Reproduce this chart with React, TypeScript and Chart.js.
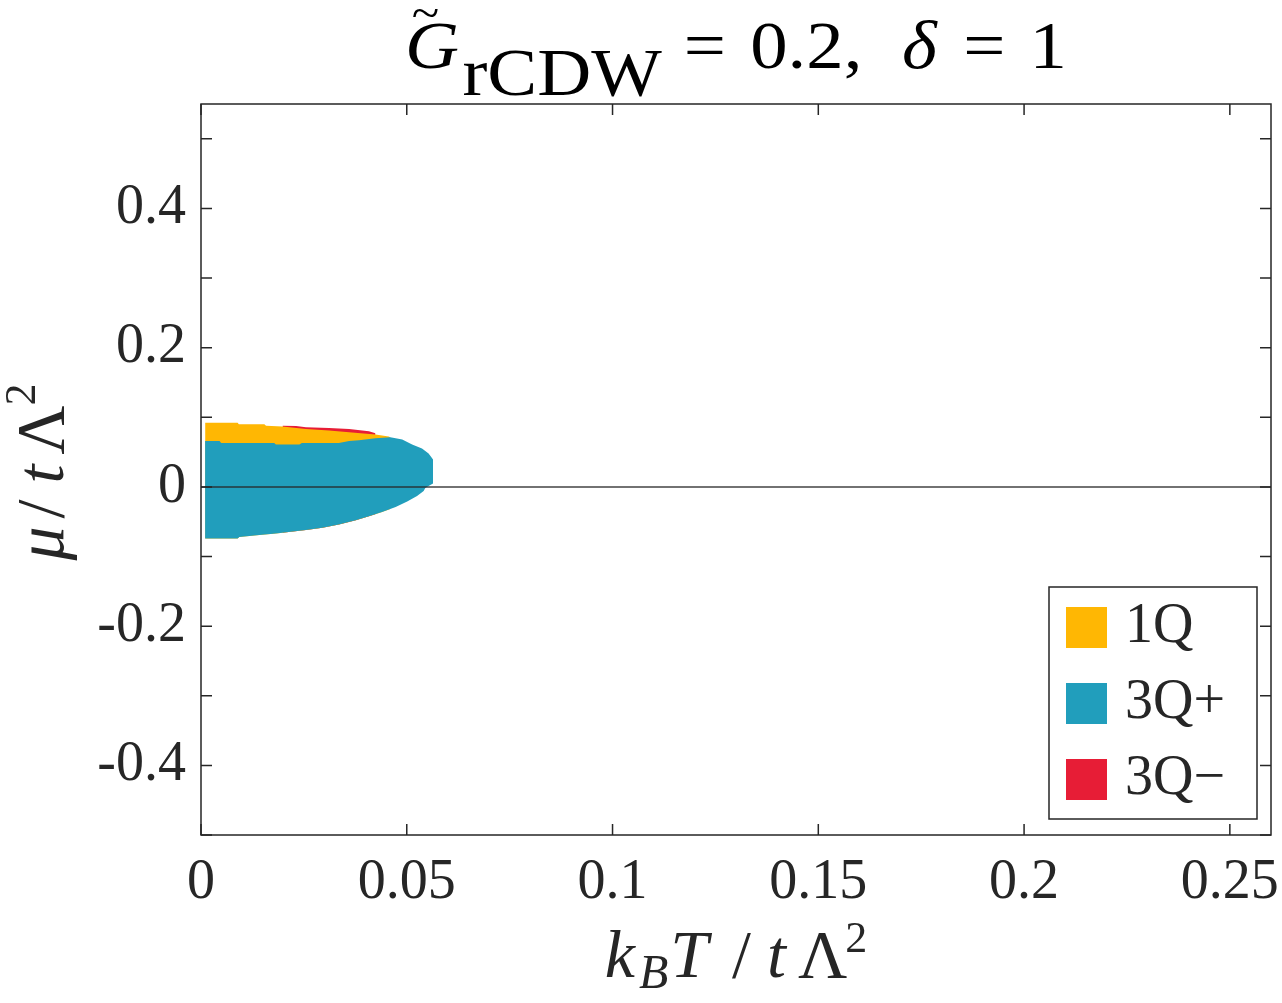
import { useEffect, useRef } from 'react';
import { Chart, registerables } from 'chart.js';

Chart.register(...registerables);

const SERIF = '"Liberation Serif", "Times New Roman", serif';
const AXIS_COLOR = '#262626';

// phases (legend order)
const phaseLabels = ['1Q', '3Q+', '3Q\u2212'];
const phaseColors = ['#FFB703', '#219EBC', '#E71D36'];

// phase boundaries: x = kBT/tΛ², y = μ/tΛ²
const blueTopX = [0.001, 0.0045, 0.0049, 0.0178, 0.0182, 0.0239, 0.0245, 0.0335, 0.036, 0.0384, 0.0424, 0.046, 0.0473, 0.0489, 0.0513, 0.0537, 0.0553, 0.0563, 0.0564];
const blueTopY = [0.066, 0.066, 0.063, 0.063, 0.061, 0.061, 0.063, 0.063, 0.066, 0.067, 0.07, 0.0714, 0.07, 0.068, 0.061, 0.055, 0.048, 0.04, 0.039];

const blueBottomX = [0.001, 0.0089, 0.0093, 0.0142, 0.0182, 0.0255, 0.0295, 0.0335, 0.0376, 0.0408, 0.044, 0.0473, 0.0501, 0.0525, 0.0541, 0.0545, 0.0553, 0.0564];
const blueBottomY = [-0.074, -0.074, -0.072, -0.069, -0.067, -0.062, -0.0586, -0.054, -0.048, -0.042, -0.036, -0.029, -0.021, -0.013, -0.006, -0.0014, 0.0014, 0.005];

const yellowTopX = [0.001, 0.0089, 0.0092, 0.0154, 0.0158, 0.0198, 0.0255, 0.0311, 0.036, 0.0424, 0.0456, 0.046];
const yellowTopY = [0.092, 0.092, 0.09, 0.09, 0.088, 0.0866, 0.0833, 0.081, 0.0786, 0.0752, 0.0723, 0.0714];

const redTopX = [0.0198, 0.0231, 0.0255, 0.0311, 0.036, 0.0408, 0.0424];
const redTopY = [0.088, 0.0876, 0.0856, 0.0847, 0.0833, 0.08, 0.0771];

const zeroLineX = [0, 0.26];
const zeroLineY = [0, 0];

// axes
const xTicks = [0, 0.05, 0.1, 0.15, 0.2, 0.25];
const xTickLabels = ['0', '0.05', '0.1', '0.15', '0.2', '0.25'];
const yTicks = [-0.5, -0.4, -0.3, -0.2, -0.1, 0, 0.1, 0.2, 0.3, 0.4, 0.5];
const yTickLabels = ['', '-0.4', '', '-0.2', '', '0', '', '0.2', '', '0.4', ''];

const toPoints = (xs: number[], ys: number[]) => xs.map((x, i) => ({ x, y: ys[i] }));

// a run of math text: gap = space before the piece, overlay = drawn without advancing
type Seg = { t: string; size: number; italic?: boolean; dy?: number; gap?: number; overlay?: boolean };

const titleSegs: Seg[] = [
  { t: '~', size: 46, gap: 6, dy: -40, overlay: true },
  { t: 'G', size: 68, italic: true },
  { t: 'rCDW', size: 68, gap: 3, dy: 27 },
  { t: '=', size: 68, gap: 20 },
  { t: '0.2,', size: 68, gap: 22 },
  { t: '\u03B4', size: 68, italic: true, gap: 36 },
  { t: '=', size: 68, gap: 24 },
  { t: '1', size: 68, gap: 22 },
];

const xLabelSegs: Seg[] = [
  { t: 'k', size: 68, italic: true },
  { t: 'B', size: 48, italic: true, gap: 4, dy: 11 },
  { t: 'T', size: 68, italic: true, gap: 2 },
  { t: '/', size: 68, gap: 24 },
  { t: 't', size: 68, italic: true, gap: 16 },
  { t: '\u039B', size: 68, gap: 12 },
  { t: '2', size: 44, gap: -2, dy: -25 },
];

const yLabelSegs: Seg[] = [
  { t: '\u03BC', size: 68, italic: true },
  { t: '/', size: 68, gap: 8 },
  { t: 't', size: 68, italic: true, gap: 16 },
  { t: '\u039B', size: 68, gap: 10 },
  { t: '2', size: 44, gap: 0, dy: -28 },
];

function drawSegs(ctx: CanvasRenderingContext2D, segs: Seg[], cx: number, baseline: number, color: string, stretch = 1) {
  const fontOf = (s: Seg) => `${s.italic ? 'italic ' : ''}${s.size}px ${SERIF}`;
  const widths = segs.map((s) => {
    ctx.font = fontOf(s);
    return ctx.measureText(s.t).width;
  });
  const total = segs.reduce((acc, s, i) => (s.overlay ? acc : acc + (s.gap ?? 0) + widths[i]), 0);
  ctx.save();
  ctx.translate(cx, baseline);
  ctx.scale(stretch, 1);
  ctx.fillStyle = color;
  ctx.textAlign = 'left';
  ctx.textBaseline = 'alphabetic';
  let x = -total / 2;
  segs.forEach((s, i) => {
    ctx.font = fontOf(s);
    if (s.overlay) {
      ctx.fillText(s.t, x + (s.gap ?? 0), s.dy ?? 0);
      return;
    }
    x += s.gap ?? 0;
    ctx.fillText(s.t, x, s.dy ?? 0);
    x += widths[i];
  });
  ctx.restore();
}

const decorPlugin = {
  id: 'phaseDecor',
  afterDatasetsDraw(chart: any) {
    const { ctx, chartArea: a, scales } = chart;
    const tick = 11;
    ctx.save();
    ctx.strokeStyle = AXIS_COLOR;
    ctx.lineWidth = 1.5;
    ctx.beginPath();
    xTicks.forEach((v) => {
      const px = scales.x.getPixelForValue(v);
      ctx.moveTo(px, a.bottom);
      ctx.lineTo(px, a.bottom - tick);
      ctx.moveTo(px, a.top);
      ctx.lineTo(px, a.top + tick);
    });
    yTicks.forEach((v) => {
      const py = scales.y.getPixelForValue(v);
      ctx.moveTo(a.left, py);
      ctx.lineTo(a.left + tick, py);
      ctx.moveTo(a.right, py);
      ctx.lineTo(a.right - tick, py);
    });
    ctx.stroke();
    ctx.strokeRect(a.left, a.top, a.right - a.left, a.bottom - a.top);
    ctx.restore();
  },
  afterDraw(chart: any) {
    const { ctx, chartArea: a } = chart;
    const cx = (a.left + a.right) / 2;
    ctx.save();

    // legend box, bottom right inside the axes
    const boxW = 208;
    const boxH = 232;
    const bx = a.right - 14 - boxW;
    const by = a.bottom - 16 - boxH;
    ctx.fillStyle = '#ffffff';
    ctx.fillRect(bx, by, boxW, boxH);
    ctx.strokeStyle = AXIS_COLOR;
    ctx.lineWidth = 1.5;
    ctx.strokeRect(bx, by, boxW, boxH);
    phaseLabels.forEach((label, i) => {
      const rowY = by + 40 + i * 76;
      ctx.fillStyle = phaseColors[i];
      ctx.fillRect(bx + 17, rowY - 20, 41, 41);
      ctx.fillStyle = AXIS_COLOR;
      ctx.font = `56px ${SERIF}`;
      ctx.textAlign = 'left';
      ctx.textBaseline = 'alphabetic';
      ctx.fillText(label, bx + 76, rowY + 15);
    });

    drawSegs(ctx, titleSegs, cx, 68, '#000000', 1.1);
    drawSegs(ctx, xLabelSegs, cx, 977, AXIS_COLOR);

    ctx.translate(63, 472);
    ctx.rotate(-Math.PI / 2);
    drawSegs(ctx, yLabelSegs, 0, 0, AXIS_COLOR);
    ctx.restore();
  },
};

const PhaseDiagram = () => {
  const chartRef = useRef<HTMLCanvasElement>(null);

  useEffect(() => {
    document.body.style.margin = '0';
    const ctx = chartRef.current?.getContext('2d');
    if (!ctx) return;

    const chartInstance = new Chart(ctx, {
      type: 'line',
      data: {
        datasets: [
          {
            label: 'zero',
            data: toPoints(zeroLineX, zeroLineY),
            borderColor: 'rgba(38, 38, 38, 0.65)',
            borderWidth: 2,
            pointRadius: 0,
            fill: false,
            order: 0,
          },
          {
            label: phaseLabels[1],
            data: toPoints(blueTopX, blueTopY),
            backgroundColor: phaseColors[1],
            borderWidth: 0,
            pointRadius: 0,
            fill: 4,
            order: 1,
          },
          {
            label: phaseLabels[0],
            data: toPoints(yellowTopX, yellowTopY),
            backgroundColor: phaseColors[0],
            borderWidth: 0,
            pointRadius: 0,
            fill: 4,
            order: 2,
          },
          {
            label: phaseLabels[2],
            data: toPoints(redTopX, redTopY),
            backgroundColor: phaseColors[2],
            borderWidth: 0,
            pointRadius: 0,
            fill: 4,
            order: 3,
          },
          {
            label: 'lower',
            data: toPoints(blueBottomX, blueBottomY),
            borderWidth: 0,
            pointRadius: 0,
            fill: false,
            order: 4,
          },
        ],
      },
      options: {
        animation: false,
        responsive: true,
        maintainAspectRatio: false,
        events: [],
        layout: { padding: { top: 104, right: 11, left: 0, bottom: 0 } },
        plugins: {
          legend: { display: false },
          tooltip: { enabled: false },
        },
        elements: { line: { tension: 0 } },
        scales: {
          x: {
            type: 'linear',
            min: 0,
            max: 0.26,
            afterBuildTicks: (scale: any) => {
              scale.ticks = xTicks.map((value) => ({ value }));
            },
            afterFit: (scale: any) => {
              scale.height = 168;
              scale.paddingLeft = 0;
              scale.paddingRight = 0;
            },
            ticks: {
              autoSkip: false,
              maxRotation: 0,
              padding: 15,
              color: AXIS_COLOR,
              font: { family: SERIF, size: 56 },
              callback: (_v: any, i: number) => xTickLabels[i],
            },
            grid: { display: false, drawTicks: false },
            border: { display: false },
          },
          y: {
            type: 'linear',
            min: -0.5,
            max: 0.55,
            afterBuildTicks: (scale: any) => {
              scale.ticks = yTicks.map((value) => ({ value }));
            },
            afterFit: (scale: any) => {
              scale.width = 201;
              scale.paddingTop = 0;
              scale.paddingBottom = 0;
            },
            ticks: {
              autoSkip: false,
              padding: 15,
              color: AXIS_COLOR,
              font: { family: SERIF, size: 56 },
              callback: (_v: any, i: number) => yTickLabels[i],
            },
            grid: { display: false, drawTicks: false },
            border: { display: false },
          },
        },
      },
      plugins: [decorPlugin],
    });

    return () => chartInstance.destroy();
  }, []);

  return (
    <div style={{ position: 'absolute', left: 0, top: 0, width: 1282, height: 1003, background: '#ffffff' }}>
      <canvas ref={chartRef} />
    </div>
  );
};

export default PhaseDiagram;
